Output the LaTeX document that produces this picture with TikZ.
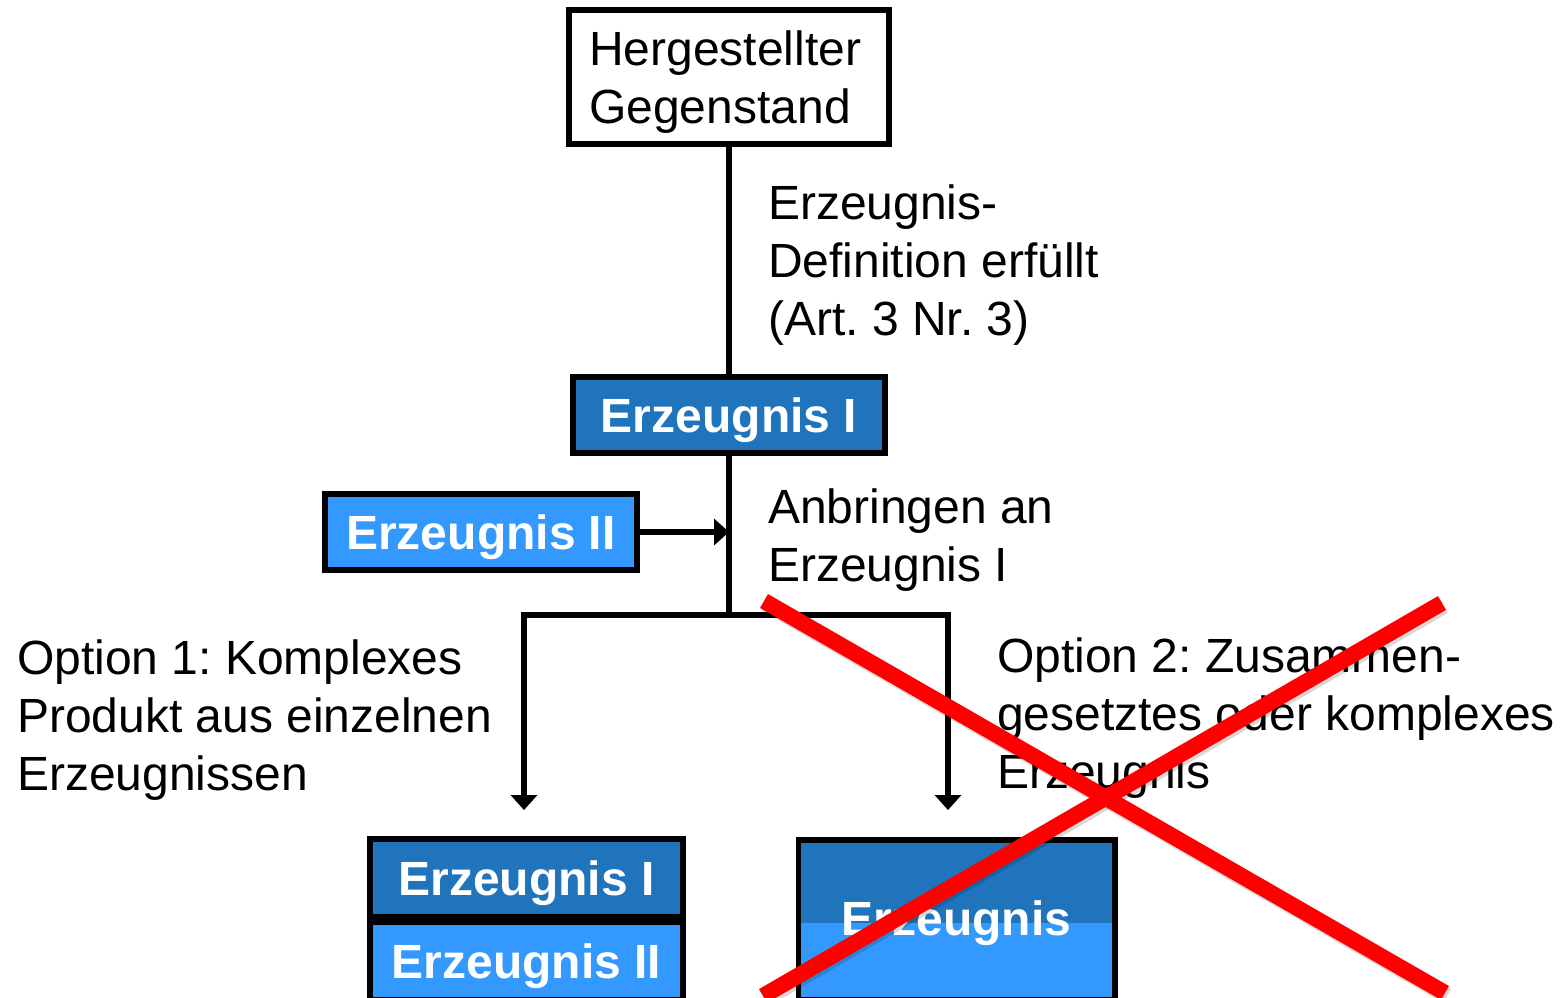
\documentclass[tikz,border=0pt]{standalone}
\usepackage{fontspec}
\setmainfont{Liberation Sans}
\usetikzlibrary{arrows.meta}
\definecolor{dblue}{HTML}{1F74BC}
\definecolor{lblue}{HTML}{3399FF}
\frenchspacing
\begin{document}
\begin{tikzpicture}[x=1pt,y=-1pt,
  txt/.style={font=\fontsize{48}{58}\selectfont, inner sep=0pt, align=left, anchor=base west},
  box/.style={draw=black, line width=5.5pt, inner sep=0pt, font=\fontsize{48}{58}\selectfont\bfseries, text=white, text height=40pt, text depth=6pt},
  conn/.style={line width=5.5pt, draw=black},
  arr/.style={conn, -{Triangle[length=15pt,width=26pt]}},
  cross/.style={line width=16pt, draw=red}
]
\useasboundingbox (0,0) rectangle (1567,997);
% top box
\node[draw=black, line width=5.5pt, minimum width=320pt, minimum height=134pt, inner sep=0pt] (top) at (729,77) {};
\node[txt, text width=282pt] (topt) at (589,65) {Hergestellter\\Gegenstand};
% Erzeugnis I
\node[box, fill=dblue, minimum width=312pt, minimum height=76pt] (e1) at (729,415) {Erzeugnis I};
% Erzeugnis II
\node[box, fill=lblue, minimum width=312pt, minimum height=76pt] (e2) at (481,532) {Erzeugnis II};
% labels (anchored at last-line baseline)
\node[txt] (l1) at (768,335) {Erzeugnis-\\Definition erfüllt\\(Art. 3 Nr. 3)};
\node[txt] (l2) at (768,581) {Anbringen an\\Erzeugnis I};
\node[txt] (l3) at (17,790) {Option 1: Komplexes\\Produkt aus einzelnen\\Erzeugnissen};
\node[txt] (l4) at (997,788) {Option 2: Zusammen-\\gesetztes oder komplexes\\Erzeugnis};
% bottom left stack
\node[box, fill=dblue, minimum width=313pt, minimum height=78pt] (b1) at (526.5,878) {Erzeugnis I};
\node[box, fill=lblue, minimum width=313pt, minimum height=77pt, anchor=north] (b2) at (b1.south) {Erzeugnis II};
% bottom right
\node[box, minimum width=311pt, minimum height=154pt, anchor=north, inner sep=0pt] (b3) at (956.5,840) {};
\fill[dblue] ([xshift=2pt,yshift=-2pt]b3.north west) rectangle ([xshift=-2pt,yshift=-3pt]b3.east);
\fill[lblue] ([xshift=2pt,yshift=-3pt]b3.west) rectangle ([xshift=-2pt,yshift=2pt]b3.south east);
\draw[line width=5.5pt] (b3.north west) rectangle (b3.south east);
\node[font=\fontsize{48}{58}\selectfont\bfseries, text=white, inner sep=0pt, text height=40pt, text depth=6pt] (b3t) at ([yshift=1pt]b3.center) {Erzeugnis};
% connectors
\coordinate (ja) at (729,532);
\coordinate (j) at (729,615);
\coordinate (jl) at (524,615);
\coordinate (jr) at (948,615);
\coordinate (al) at (524,810);
\coordinate (ar) at (948,810);
\draw[conn] (top.south) -- (e1.north);
\draw[conn] (e1.south) -- (j);
\draw[arr] (e2.east) -- (ja);
\draw[conn, line cap=rect] (jl) -- (jr);
\draw[arr] (jl) -- (al);
\draw[arr] (jr) -- (ar);
% red cross
\draw[line width=16pt, draw=black, opacity=0.15] (766,604) -- (1447,996);
\draw[line width=16pt, draw=black, opacity=0.15] (1444,606) -- (765,999);
\draw[cross] (764,601) -- (1445,993);
\draw[cross] (1442,603) -- (763,996);
\end{tikzpicture}
\end{document}
